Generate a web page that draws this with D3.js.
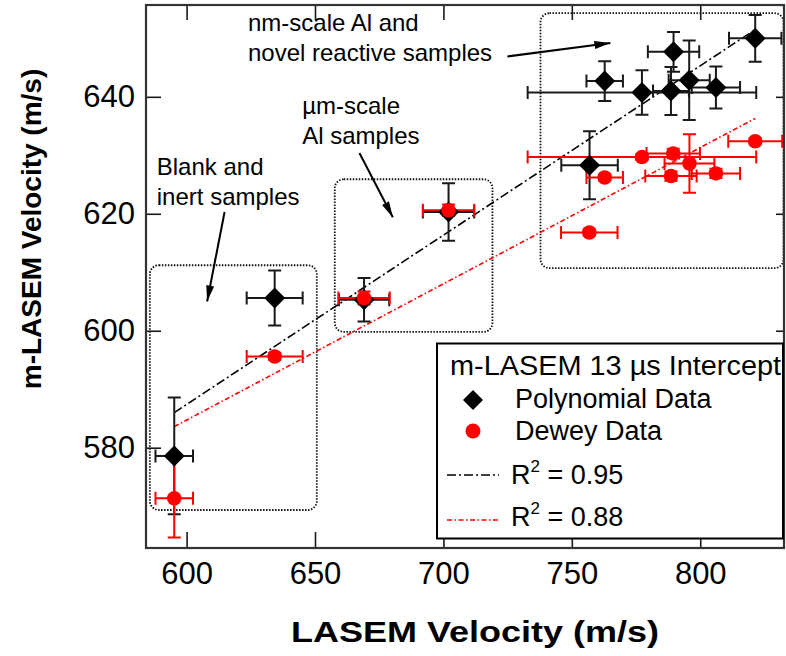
<!DOCTYPE html>
<html>
<head>
<meta charset="utf-8">
<script src="https://cdn.jsdelivr.net/npm/d3@7"></script>
<style>
  body { margin: 0; background: #fff; }
  svg { display: block; font-family: "Liberation Sans", Arial, sans-serif; }
</style>
</head>
<body>
<svg id="chart" width="786" height="656"></svg>
<script>
// LASEM vs m-LASEM velocity (m/s)
const polyX = [595.2, 634.3, 669.1, 702.0, 756.9, 762.8, 777.3, 788.6, 789.6, 795.7, 806.1, 821.4];
const polyY = [578.6, 605.6, 605.3, 620.3, 628.3, 642.7, 640.75, 641.0, 647.7, 642.85, 641.6, 650.0];
const polyXErr = [7.3, 10.9, 9.8, 10, 11, 7.1, 44.5, 7, 10, 8, 9.4, 10.2];
const polyYErr = [10.0, 4.7, 3.7, 4.9, 5.8, 3.4, 3.8, 4.1, 3.4, 6.8, 3.6, 4.0];

const deweyX = [595.2, 634.3, 669.1, 702.0, 756.8, 762.8, 777.3, 788.6, 789.5, 795.8, 806.1, 821.4];
const deweyY = [571.35, 595.6, 605.6, 620.6, 616.8, 626.2, 629.7, 626.45, 630.3, 628.6, 626.9, 632.4];
const deweyXErr = [7.3, 10.9, 10, 10, 11, 7.1, 44.5, 10, 10.4, 9.7, 9.4, 10.5];
const deweyYErr = [6.7, 0.6, 1.1, 1, 0.5, 0.5, 0.5, 0.8, 0.8, 5.0, 0.8, 0.5];

// fit lines (ends only)
const fitX = [595.2, 821.4];
const polyFitY = [586.0, 651.5];
const deweyFitY = [583.6, 636.3];

const xTicks = [600, 650, 700, 750, 800];
const yTicks = [580, 600, 620, 640];

// annotation groups, in data units
const groupBoxes = [
  { x0: 585.7, x1: 650.7, y0: 569.35, y1: 611.2 },
  { x0: 657.7, x1: 719.1, y0: 599.8, y1: 625.9 },
  { x0: 737.8, x1: 832.4, y0: 610.7, y1: 654.3 }
];
const groupLabels = [
  { x: 588.4, y: 626.7, lines: ["Blank and", "inert samples"] },
  { x: 645.0, y: 637.0, lines: ["\u00b5m-scale", "Al samples"] },
  { x: 623.9, y: 651.3, lines: ["nm-scale Al and", "novel reactive samples"] }
];
const groupArrows = [
  { x0: 614.8, y0: 620.3, x1: 608.0, y1: 605.0 },
  { x0: 667.3, y0: 630.4, x1: 680.3, y1: 619.4 },
  { x0: 724.9, y0: 646.9, x1: 765.0, y1: 649.2 }
];

const svg = d3.select("#chart");
const W = 786, H = 656;
const margin = { top: 5, right: 1, bottom: 108, left: 146 };

svg.append("rect").attr("width", W).attr("height", H).attr("fill", "#fff");

const x = d3.scaleLinear().domain([584.2, 833.0]).range([margin.left, W - margin.right]);
const y = d3.scaleLinear().domain([562.85, 655.7]).range([H - margin.bottom, margin.top]);

const ink = "#1a1a1a";
const red = "#ff0000";

// dotted group boxes
svg.append("g")
  .selectAll("rect")
  .data(groupBoxes)
  .join("rect")
  .attr("x", (d) => x(d.x0))
  .attr("y", (d) => y(d.y1))
  .attr("width", (d) => x(d.x1) - x(d.x0))
  .attr("height", (d) => y(d.y0) - y(d.y1))
  .attr("rx", 9)
  .attr("fill", "none")
  .attr("stroke", "#111")
  .attr("stroke-width", 1.8)
  .attr("stroke-dasharray", "1.5,1.5");

// fit lines
const fits = [
  { ys: polyFitY, color: "#000", dash: "9,3,2,3" },
  { ys: deweyFitY, color: red, dash: "5,2.5,1.5,2.5" }
];
svg.append("g")
  .selectAll("line")
  .data(fits)
  .join("line")
  .attr("x1", x(fitX[0]))
  .attr("x2", x(fitX[1]))
  .attr("y1", (d) => y(d.ys[0]))
  .attr("y2", (d) => y(d.ys[1]))
  .attr("stroke", (d) => d.color)
  .attr("stroke-width", 1.6)
  .attr("stroke-dasharray", (d) => d.dash);

const poly = polyX.map((v, i) => ({ x: v, y: polyY[i], ex: polyXErr[i], ey: polyYErr[i] }));
const dewey = deweyX.map((v, i) => ({ x: v, y: deweyY[i], ex: deweyXErr[i], ey: deweyYErr[i] }));

const cap = 6.5;
function errorBars(data, color) {
  const g = svg.append("g").attr("stroke", color).attr("stroke-width", 2).attr("fill", "none");
  const p = d3.path();
  data.forEach((d) => {
    const cx = x(d.x), cy = y(d.y);
    const xl = x(d.x - d.ex), xr = x(d.x + d.ex);
    const yt = y(d.y + d.ey), yb = y(d.y - d.ey);
    p.moveTo(xl, cy); p.lineTo(xr, cy);
    p.moveTo(xl, cy - cap); p.lineTo(xl, cy + cap);
    p.moveTo(xr, cy - cap); p.lineTo(xr, cy + cap);
    p.moveTo(cx, yt); p.lineTo(cx, yb);
    p.moveTo(cx - cap, yt); p.lineTo(cx + cap, yt);
    p.moveTo(cx - cap, yb); p.lineTo(cx + cap, yb);
  });
  g.append("path").attr("d", p.toString());
}

errorBars(poly, ink);
errorBars(dewey, red);

const diamond = (s) => `M0,${-s}L${s},0L0,${s}L${-s},0Z`;

svg.append("g")
  .selectAll("path")
  .data(poly)
  .join("path")
  .attr("transform", (d) => `translate(${x(d.x)},${y(d.y)})`)
  .attr("d", diamond(10.5))
  .attr("fill", "#000");

svg.append("g")
  .selectAll("circle")
  .data(dewey)
  .join("circle")
  .attr("cx", (d) => x(d.x))
  .attr("cy", (d) => y(d.y))
  .attr("r", 7.3)
  .attr("fill", red);

// axes: labelled bottom/left, mirrored ticks top/right
const tickStyle = (g) => {
  g.select(".domain").remove();
  g.selectAll(".tick line").attr("stroke", ink).attr("stroke-width", 1.6);
  g.selectAll(".tick text").attr("fill", "#000").attr("font-size", 31)
    .attr("font-family", "Liberation Sans, Arial, sans-serif");
};

svg.append("g")
  .attr("transform", `translate(0,${y.range()[0]})`)
  .call(d3.axisBottom(x).tickValues(xTicks).tickSize(-16).tickPadding(14))
  .call(tickStyle);
svg.append("g")
  .attr("transform", `translate(0,${y.range()[1]})`)
  .call(d3.axisTop(x).tickValues(xTicks).tickSize(-15).tickFormat(""))
  .call(tickStyle);
svg.append("g")
  .attr("transform", `translate(${x.range()[0]},0)`)
  .call(d3.axisLeft(y).tickValues(yTicks).tickSize(-15).tickPadding(11))
  .call(tickStyle);
svg.append("g")
  .attr("transform", `translate(${x.range()[1]},0)`)
  .call(d3.axisRight(y).tickValues(yTicks).tickSize(-9).tickFormat(""))
  .call(tickStyle);

svg.append("rect")
  .attr("x", x.range()[0])
  .attr("y", y.range()[1])
  .attr("width", x.range()[1] - x.range()[0] - 1)
  .attr("height", y.range()[0] - y.range()[1])
  .attr("fill", "none")
  .attr("stroke", "#333")
  .attr("stroke-width", 2.2);

// annotation labels + arrows
const ann = svg.append("g").attr("font-size", 24).attr("fill", "#000");
groupLabels.forEach((d) => {
  const t = ann.append("text").attr("x", x(d.x)).attr("y", y(d.y));
  d.lines.forEach((line, i) => {
    t.append("tspan").attr("x", x(d.x)).attr("dy", i ? 30 : 0).text(line);
  });
});

svg.append("defs").append("marker")
  .attr("id", "head")
  .attr("viewBox", "0 0 16 8")
  .attr("refX", 16)
  .attr("refY", 4)
  .attr("markerWidth", 16)
  .attr("markerHeight", 8)
  .attr("markerUnits", "userSpaceOnUse")
  .attr("orient", "auto")
  .append("path")
  .attr("d", "M0,0L16,4L0,8Z")
  .attr("fill", "#000");

svg.append("g")
  .selectAll("line")
  .data(groupArrows)
  .join("line")
  .attr("x1", (d) => x(d.x0))
  .attr("y1", (d) => y(d.y0))
  .attr("x2", (d) => x(d.x1))
  .attr("y2", (d) => y(d.y1))
  .attr("stroke", "#000")
  .attr("stroke-width", 2)
  .attr("marker-end", "url(#head)");

// legend
const lg = svg.append("g");
lg.append("rect")
  .attr("x", 437).attr("y", 343.5)
  .attr("width", 346).attr("height", 195)
  .attr("fill", "#fff").attr("stroke", "#000").attr("stroke-width", 2);
lg.append("text").attr("x", 450).attr("y", 375).attr("font-size", 27)
  .attr("textLength", 331).attr("lengthAdjust", "spacingAndGlyphs")
  .text("m-LASEM 13 \u00b5s Intercept");
lg.append("path").attr("transform", "translate(473,400)").attr("d", diamond(10)).attr("fill", "#000");
lg.append("text").attr("x", 515).attr("y", 408).attr("font-size", 27).text("Polynomial Data");
lg.append("circle").attr("cx", 473).attr("cy", 431).attr("r", 7.5).attr("fill", red);
lg.append("text").attr("x", 515).attr("y", 440).attr("font-size", 27).text("Dewey Data");

const fitLegend = [
  { label: "0.95", color: "#000", dash: "9,3,2,3", ly: 475, ty: 484 },
  { label: "0.88", color: red, dash: "5,2.5,1.5,2.5", ly: 520, ty: 526 }
];
fitLegend.forEach((d) => {
  lg.append("line").attr("x1", 447).attr("x2", 499).attr("y1", d.ly).attr("y2", d.ly)
    .attr("stroke", d.color).attr("stroke-width", 1.6).attr("stroke-dasharray", d.dash);
  const t = lg.append("text").attr("x", 511).attr("y", d.ty).attr("font-size", 27);
  t.append("tspan").text("R");
  t.append("tspan").attr("font-size", 17).attr("dy", -12).text("2");
  t.append("tspan").attr("dy", 12).text(" = " + d.label);
});

// axis titles
svg.append("text")
  .attr("x", 475).attr("y", 642)
  .attr("text-anchor", "middle")
  .attr("font-size", 29).attr("font-weight", "bold")
  .attr("textLength", 368).attr("lengthAdjust", "spacingAndGlyphs")
  .text("LASEM Velocity (m/s)");
svg.append("text")
  .attr("transform", "translate(41,229) rotate(-90)")
  .attr("text-anchor", "middle")
  .attr("font-size", 28).attr("font-weight", "bold")
  .text("m-LASEM Velocity (m/s)");
</script>
</body>
</html>
